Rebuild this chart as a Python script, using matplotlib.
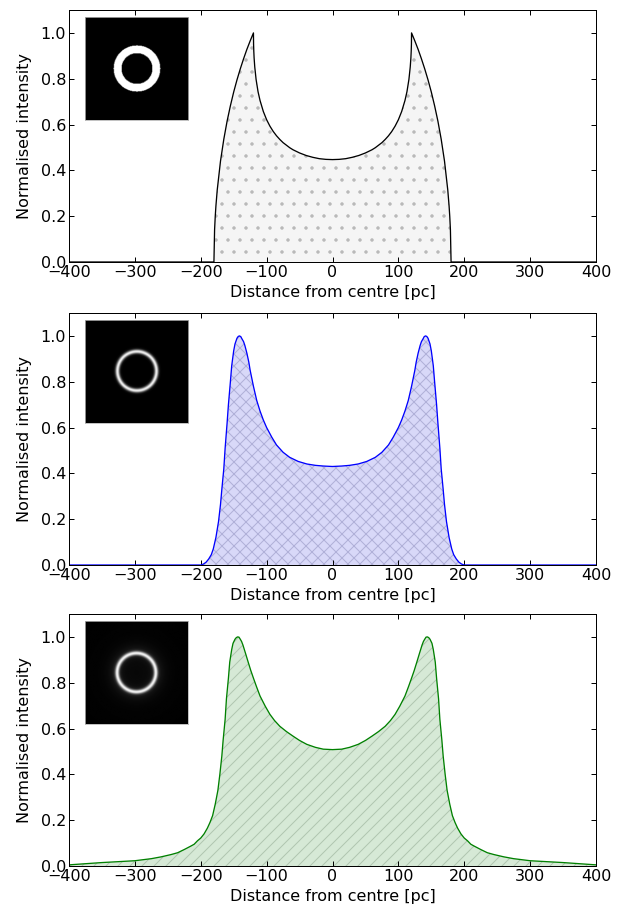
import numpy as np
import matplotlib
matplotlib.use("Agg")
import matplotlib.pyplot as plt

# profile 1: sharp shell
x1 = [-400, -180, -179, -178, -177, -175, -170, -165, -160, -155, -150, -145, -140, -135, -130, -125,
      -120, -119.8, -119.5, -119, -118, -116, -113, -110, -105, -100, -95, -90, -85, -80, -75, -70,
      -65, -60, -50, -40, -30, -20, -10, 0, 10, 20, 30, 40, 50, 60, 65, 70, 75, 80, 85, 90, 95, 100,
      105, 110, 113, 116, 118, 119, 119.5, 119.8, 120, 125, 130, 135, 140, 145, 150, 155, 160, 165,
      170, 175, 177, 178, 179, 180, 400]
y1 = [0, 0, 0.141, 0.199, 0.244, 0.314, 0.441, 0.536, 0.615, 0.682, 0.742, 0.795, 0.843, 0.887, 0.928, 0.965,
      1.0, 0.950, 0.922, 0.891, 0.851, 0.797, 0.743, 0.705, 0.657, 0.621, 0.593, 0.570, 0.551, 0.535, 0.521, 0.510,
      0.499, 0.490, 0.476, 0.465, 0.457, 0.451, 0.448, 0.447, 0.448, 0.451, 0.457, 0.465, 0.476, 0.490, 0.499, 0.510,
      0.521, 0.535, 0.551, 0.570, 0.593, 0.621,
      0.657, 0.705, 0.743, 0.797, 0.851, 0.891, 0.922, 0.950, 1.0, 0.965, 0.928, 0.887, 0.843, 0.795, 0.742, 0.682,
      0.615, 0.536, 0.441, 0.314, 0.244, 0.199, 0.141, 0, 0]

# profile 2: smoothed shell
x2 = [-400, -200, -196, -192, -188, -184, -181, -177, -173, -170, -168, -165, -163, -160, -158, -155, -153,
      -150, -148, -145, -143, -141, -139, -138, -135, -133, -130, -127, -125, -120, -115, -110, -105, -100,
      -92, -85, -75, -65, -52, -39, -26, -14, 0, 14, 26, 39, 52, 65, 75, 85, 92, 100, 105, 110, 115, 120,
      125, 127, 130, 133, 135, 138, 139, 141, 143, 145, 148, 150, 153, 155, 158, 160, 163, 165, 168, 170,
      173, 177, 181, 184, 188, 192, 196, 200, 400]
y2 = [0, 0, 0.004, 0.012, 0.026, 0.045, 0.07, 0.12, 0.19, 0.265, 0.33, 0.42, 0.51, 0.62, 0.70, 0.80, 0.87,
      0.935, 0.965, 0.99, 0.998, 1.0, 0.996, 0.99, 0.975, 0.958, 0.925, 0.885, 0.85, 0.78, 0.718, 0.672, 0.633,
      0.60, 0.557, 0.524, 0.492, 0.47, 0.452, 0.441, 0.435, 0.432, 0.43, 0.432, 0.435, 0.441, 0.452, 0.47,
      0.492, 0.524, 0.557, 0.60, 0.633, 0.672, 0.718, 0.78,
      0.85, 0.885, 0.925, 0.958, 0.975, 0.99, 0.996, 1.0, 0.998, 0.99, 0.965, 0.935, 0.87, 0.80, 0.70, 0.62,
      0.51, 0.42, 0.33, 0.265, 0.19, 0.12, 0.07, 0.045, 0.026, 0.012, 0.004, 0, 0]

# profile 3: shell with extended wings
x3 = [-400, -375, -350, -325, -300, -275, -260, -245, -235, -225, -215, -210, -205, -200, -195, -190, -186,
      -182, -178, -174, -171, -168, -166, -163, -161, -158, -156, -153, -151, -148, -146, -144, -142, -140,
      -138, -136, -132, -128, -124, -120, -115, -110, -102, -95, -88, -80, -70, -60, -50, -39, -26, -14, 0,
      14, 26, 39, 50, 60, 70, 80, 88, 95, 102, 110, 115, 120, 124, 128, 132, 136, 138, 140, 142, 144, 146,
      148, 151, 153, 156, 158, 161, 163, 166, 168, 171, 174, 178, 182, 186, 190, 195, 200, 205, 210, 215,
      225, 235, 245, 260, 275, 300, 325, 350, 375, 400]
y3 = [0.005, 0.01, 0.015, 0.019, 0.023, 0.032, 0.04, 0.05, 0.058, 0.072, 0.087, 0.095, 0.11, 0.122, 0.14,
      0.165, 0.19, 0.22, 0.27, 0.33, 0.40, 0.48, 0.55, 0.64, 0.73, 0.82, 0.89, 0.945, 0.972, 0.99, 0.997, 1.0,
      0.999, 0.99, 0.98, 0.965, 0.928, 0.89, 0.853, 0.82, 0.78, 0.742, 0.697, 0.662, 0.635, 0.61, 0.587, 0.567,
      0.548, 0.531, 0.518, 0.51, 0.508,
      0.51, 0.518, 0.531, 0.548, 0.567, 0.587, 0.61, 0.635, 0.662, 0.697, 0.742, 0.78, 0.82, 0.853, 0.89,
      0.928, 0.965, 0.98, 0.99, 0.999, 1.0, 0.997, 0.99, 0.972, 0.945, 0.89, 0.82, 0.73, 0.64, 0.55, 0.48,
      0.40, 0.33, 0.27, 0.22, 0.19, 0.165, 0.14, 0.122, 0.11, 0.095, 0.087, 0.072, 0.058, 0.05, 0.04, 0.032,
      0.023, 0.019, 0.015, 0.01, 0.005]

# radial brightness of the inset images (pc)
ring_r = [0, 119.9, 120, 180, 180.1, 600]
ring_sharp = [0, 0, 1, 1, 0, 0]
blur_r = [0, 110, 125, 135, 143, 151, 159, 167, 177, 192, 600]
ring_blur = [0, 0, 0.04, 0.3, 0.75, 1.0, 0.75, 0.3, 0.04, 0, 0]
wing_r = [0, 80, 110, 125, 135, 143, 151, 159, 167, 177, 192, 220, 260, 320, 600]
ring_wing = [0.03, 0.04, 0.06, 0.12, 0.4, 0.8, 1.0, 0.8, 0.4, 0.14, 0.07, 0.04, 0.02, 0.01, 0]

xticks = [-400, -300, -200, -100, 0, 100, 200, 300, 400]
yticks = [0.0, 0.2, 0.4, 0.6, 0.8, 1.0]

plt.rcParams["font.family"] = "DejaVu Sans"
plt.rcParams["hatch.linewidth"] = 1.0

fig = plt.figure(figsize=(624 / 72, 904 / 72), dpi=72)
W, H = 624.0, 904.0

panels = [
    (x1, y1, "k", "0.96", "0.72", ".", ring_r, ring_sharp, 10),
    (x2, y2, "#0000ff", "#d8d8f8", "#b0b0d8", "xx", blur_r, ring_blur, 313),
    (x3, y3, "#008000", "#d6e9d6", "#b0c6b0", "//", wing_r, ring_wing, 614),
]

g = np.linspace(-400, 400, 201)
gx, gy = np.meshgrid(g, g)
rr = np.hypot(gx, gy)

for x, y, lc, fc, hc, hatch, pr, pv, top in panels:
    ax = fig.add_axes([69 / W, 1 - (top + 252) / H, 527 / W, 252 / H])
    ax.fill_between(x, y, 0, facecolor=fc, edgecolor=hc, hatch=hatch, linewidth=0)
    ax.plot(x, y, color=lc, lw=1.3)
    ax.set_xlim(-400, 400)
    ax.set_ylim(0, 1.1)
    ax.set_xticks(xticks)
    ax.set_yticks(yticks)
    ax.tick_params(direction="in", top=True, right=True, length=5, width=1, labelsize=16, pad=3)
    for s in ax.spines.values():
        s.set_linewidth(1.0)
    ax.set_xlabel("Distance from centre [pc]", fontsize=16, labelpad=5)
    ax.set_ylabel("Normalised intensity", fontsize=16, labelpad=8)

    ins = fig.add_axes([85 / W, 1 - (top + 110) / H, 103 / W, 103 / H])
    img = np.interp(rr, pr, pv)
    ins.imshow(img, cmap="gray", vmin=0, vmax=1, interpolation="bilinear", extent=[-400, 400, -400, 400])
    ins.set_xticks([])
    ins.set_yticks([])
    for s in ins.spines.values():
        s.set_edgecolor("0.7")
        s.set_linewidth(0.8)

fig.savefig("out.png", dpi=72)
